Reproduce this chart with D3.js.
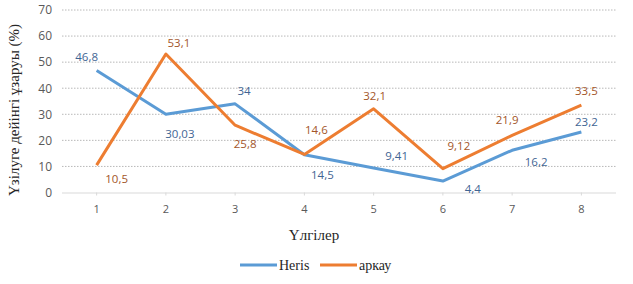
<!DOCTYPE html>
<html><head><meta charset="utf-8">
<script src="https://cdn.jsdelivr.net/npm/d3@7"></script>
<style>body{margin:0;background:#fff}svg{display:block}</style>
</head><body>
<script>
const categories = ["1","2","3","4","5","6","7","8"];
const heris = [46.8, 30.03, 34, 14.5, 9.41, 4.4, 16.2, 23.2];
const arkay = [10.5, 53.1, 25.8, 14.6, 32.1, 9.12, 21.9, 33.5];
const herisLabels = ["46,8","30,03","34","14,5","9,41","4,4","16,2","23,2"];
const arkayLabels = ["10,5","53,1","25,8","14,6","32,1","9,12","21,9","33,5"];
const yTicks = [0,10,20,30,40,50,60,70];
const seriesNames = ["Heris","аркау"];

// label placement (style): dx, dy offsets relative to point
const herisPos = [[-10,-14],[14,20],[9,-13],[18,20],[23,-12],[30,8],[24,12],[5,-10]];
const arkayPos = [[20,14],[13,-11],[10,19],[12,-24],[1,-13],[16,-23],[-5,-15],[5,-14]];

const W=633,H=284;
const svg=d3.select("body").append("svg").attr("width",W).attr("height",H);
const x=d3.scaleBand().domain(categories).range([62,616]);
const y=d3.scaleLinear().domain([0,70]).range([192.5,10]);
const cx=d=>x(d)+x.bandwidth()/2;

// gridlines
svg.append("g").selectAll("line").data(yTicks.filter(t=>t>0)).join("line")
 .attr("x1",62).attr("x2",616).attr("y1",d=>y(d)).attr("y2",d=>y(d))
 .attr("stroke","#b8b8b8").attr("stroke-width",1).attr("stroke-dasharray","1.5,1.5");

// y axis labels
const ya=svg.append("g").attr("transform","translate(62,0)")
 .call(d3.axisLeft(y).tickValues(yTicks).tickSize(0).tickPadding(10));
ya.select(".domain").remove();
ya.selectAll("text").attr("font-family","'Open Sans', sans-serif").attr("font-size",12).attr("fill","#595959");

// x axis
const xa=svg.append("g").attr("transform","translate(0,192.5)")
 .call(d3.axisBottom(x).tickSize(3).tickPadding(10));
xa.select(".domain").attr("stroke","#d9d9d9").attr("d","M62,0.5H616");
xa.selectAll(".tick line").attr("stroke","#d9d9d9");
xa.selectAll("text").attr("font-family","'Open Sans', sans-serif").attr("font-size",11).attr("fill","#595959");

// lines
const line=d3.line().x((d,i)=>cx(categories[i])).y(d=>y(d));
svg.append("path").datum(heris).attr("d",line).attr("fill","none").attr("stroke","#5b9bd5").attr("stroke-width",3).attr("stroke-linejoin","round");
svg.append("path").datum(arkay).attr("d",line).attr("fill","none").attr("stroke","#ed7d31").attr("stroke-width",3).attr("stroke-linejoin","round");

// labels
function labels(vals,txt,pos,color){
 svg.append("g").selectAll("text").data(vals).join("text")
  .attr("x",(d,i)=>cx(categories[i])+pos[i][0])
  .attr("y",(d,i)=>y(d)+pos[i][1])
  .attr("dy","0.35em").attr("text-anchor","middle")
  .attr("font-family","'Open Sans', sans-serif").attr("font-size",11.5)
  .attr("fill",color).text((d,i)=>txt[i]);
}
labels(heris,herisLabels,herisPos,"#3f6594");
labels(arkay,arkayLabels,arkayPos,"#a3562a");

// axis titles
svg.append("text").attr("transform","translate(19,110) rotate(-90)").attr("text-anchor","middle")
 .attr("font-family","'Liberation Serif', serif").attr("font-size",15).attr("fill","#262626")
 .text("Үзілуге дейінгі ұзаруы (%)");
svg.append("text").attr("x",314).attr("y",240).attr("text-anchor","middle")
 .attr("font-family","'Liberation Serif', serif").attr("font-size",15).attr("fill","#262626")
 .text("Үлгілер");

// legend
const lg=svg.append("g");
const lx=[240,320], colors=["#5b9bd5","#ed7d31"];
seriesNames.forEach((n,i)=>{
 lg.append("line").attr("x1",lx[i]).attr("x2",lx[i]+37).attr("y1",265).attr("y2",265).attr("stroke",colors[i]).attr("stroke-width",3);
 lg.append("text").attr("x",lx[i]+39).attr("y",265).attr("dy","0.35em")
  .attr("font-family","'Liberation Serif', serif").attr("font-size",14).attr("fill","#262626").text(n);
});
</script>
</body></html>
